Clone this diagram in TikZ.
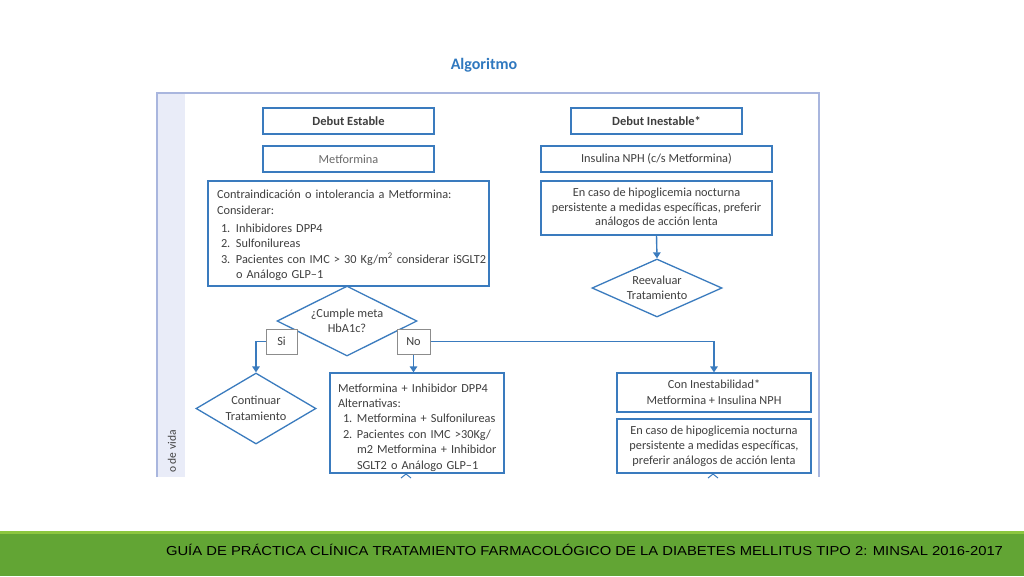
\documentclass[tikz,border=0pt]{standalone}
\usepackage{fontspec}
\usepackage{graphicx}
\setmainfont{Carlito}
\newfontfamily\footfont{Liberation Sans}
\usetikzlibrary{shapes.geometric,arrows.meta}
\definecolor{boxblue}{HTML}{3A7BBE}
\definecolor{titleblue}{HTML}{2F78BF}
\definecolor{framecol}{HTML}{A9B6DE}
\definecolor{stripfill}{HTML}{E9ECF8}
\definecolor{txtgray}{HTML}{3F3F3F}
\definecolor{lightgray}{HTML}{6A6A6A}
\definecolor{taggray}{HTML}{8C8C8C}
\definecolor{footlight}{HTML}{8CC63F}
\definecolor{footdark}{HTML}{62A534}
\begin{document}
\begin{tikzpicture}[x=1pt,y=-1pt,
  box/.style={draw=boxblue, line width=1.3pt, fill=white, text=txtgray, inner sep=0pt,
    font=\fontsize{12.3}{15}\selectfont, align=center},
  lbox/.style={draw=boxblue, line width=1.3pt, fill=white, text=txtgray, inner ysep=0pt,
    font=\fontsize{12.3}{15.5}\selectfont, align=left},
  dia/.style={diamond, aspect=2, draw=boxblue, line width=1.3pt, fill=white, text=txtgray,
    inner sep=0pt, font=\fontsize{12.3}{15.5}\selectfont, align=center},
  tag/.style={draw=taggray, line width=1pt, fill=white, text=txtgray, inner sep=0pt,
    minimum height=25pt, font=\fontsize{12.3}{14}\selectfont},
  conn/.style={draw=boxblue, line width=1.4pt, -{Triangle[length=6pt,width=7.5pt]}},
  titlestyle/.style={text=titleblue, font=\fontsize{16}{18}\selectfont\bfseries}
]
\useasboundingbox (0,0) rectangle (1024,576);
\fill[white] (0,0) rectangle (1024,576);
% footer
\fill[footlight] (0,531) rectangle (1024,535);
\fill[footdark] (0,534) rectangle (1024,576);
\node[font=\footfont\fontsize{13}{13}\selectfont, text=black, inner sep=0pt] (foot) at (584.5,550)
  {\resizebox{837pt}{\height}{GUÍA DE PRÁCTICA CLÍNICA TRATAMIENTO FARMACOLÓGICO DE LA DIABETES MELLITUS TIPO 2: MINSAL 2016-2017}};
% frame
\fill[stripfill] (157,93) rectangle (185,477);
\draw[framecol, line width=1.2pt] (157,477) -- (157,93) -- (819,93) -- (819,477);
\node[rotate=90, anchor=west, text=txtgray, inner sep=0pt, font=\fontsize{11.5}{12}\selectfont] (vida) at (172,473) {o de vida};
% title
\node[titlestyle] (title) at (484,65) {Algoritmo};
% left column
\node[box, minimum width=171pt, minimum height=26pt, font=\fontsize{12.5}{15}\selectfont\bfseries] (de) at (348.5,121) {Debut Estable};
\node[box, minimum width=171pt, minimum height=26pt, text=lightgray] (met) at (348.5,159) {Metformina};
\node[lbox, inner xsep=9pt, text width=263pt, minimum height=105pt] (contra) at (348.5,233.5) {%
\raisebox{-2pt}[\height][\depth]{\begin{tabular}{@{}l@{}}
Contraindicación o intolerancia a Metformina:\\
Considerar:\\[2.5pt]
\hspace*{4pt}\makebox[15pt][l]{1.}Inhibidores DPP4\\
\hspace*{4pt}\makebox[15pt][l]{2.}Sulfonilureas\\
\hspace*{4pt}\makebox[15pt][l]{3.}Pacientes con IMC > 30 Kg/m\textsuperscript{2} considerar iSGLT2\\
\hspace*{19pt}o Análogo GLP–1
\end{tabular}}};
% right column
\node[box, minimum width=171pt, minimum height=26pt, font=\fontsize{12.5}{15}\selectfont\bfseries] (di) at (656.5,121) {Debut Inestable*};
\node[box, minimum width=231pt, minimum height=26pt] (ins) at (656.5,159) {Insulina NPH (c/s Metformina)};
\node[box, minimum width=231pt, minimum height=54pt, font=\fontsize{12.3}{14.5}\selectfont] (caso1) at (656.5,208) {En caso de hipoglicemia nocturna\\persistente a medidas específicas, preferir\\análogos de acción lenta};
\node[dia, minimum width=130pt, minimum height=58pt] (reev) at (657,288) {Reevaluar\\Tratamiento};
% decision
\node[dia, minimum width=140pt, minimum height=70pt] (cumple) at (347,321) {¿Cumple meta\\HbA1c?};
\node[tag, minimum width=31pt] (si) at (281.5,341.5) {Si};
\node[tag, minimum width=33pt] (no) at (413.5,341.5) {No};
\node[dia, minimum width=120pt, minimum height=71pt] (cont) at (256,408.5) {Continuar\\Tratamiento};
\node[lbox, inner xsep=8pt, text width=158pt, minimum height=100pt, font=\fontsize{12.3}{15.4}\selectfont] (alt) at (417,423) {%
\raisebox{-4.5pt}[\height][\depth]{\begin{tabular}{@{}l@{}}
Metformina + Inhibidor DPP4\\
Alternativas:\\
\hspace*{5pt}\makebox[14pt][l]{1.}Metformina + Sulfonilureas\\
\hspace*{5pt}\makebox[14pt][l]{2.}Pacientes con IMC >30Kg/\\
\hspace*{19pt}m2 Metformina + Inhibidor\\
\hspace*{19pt}SGLT2 o Análogo GLP–1
\end{tabular}}};
\node[box, minimum width=194pt, minimum height=39pt, font=\fontsize{12.3}{16}\selectfont] (coni) at (714,392.5) {Con Inestabilidad*\\Metformina + Insulina NPH};
\node[box, minimum width=194pt, minimum height=54pt] (caso2) at (714,446) {En caso de hipoglicemia nocturna\\persistente a medidas específicas,\\preferir análogos de acción lenta};
% connectors
\draw[conn] (caso1.south) -- (reev.north);
\draw[conn] (si.west) -| (cont.north);
\draw[conn] (no.south) -- (no.south |- alt.north);
\draw[conn] (no.east) -| (coni.north);
% cut-off arrowheads at the bottom
\draw[boxblue, line width=1pt] (401,478) -- (406,474) -- (411,478);
\draw[boxblue, line width=1pt] (708,478) -- (713,474) -- (718,478);
\end{tikzpicture}
\end{document}
